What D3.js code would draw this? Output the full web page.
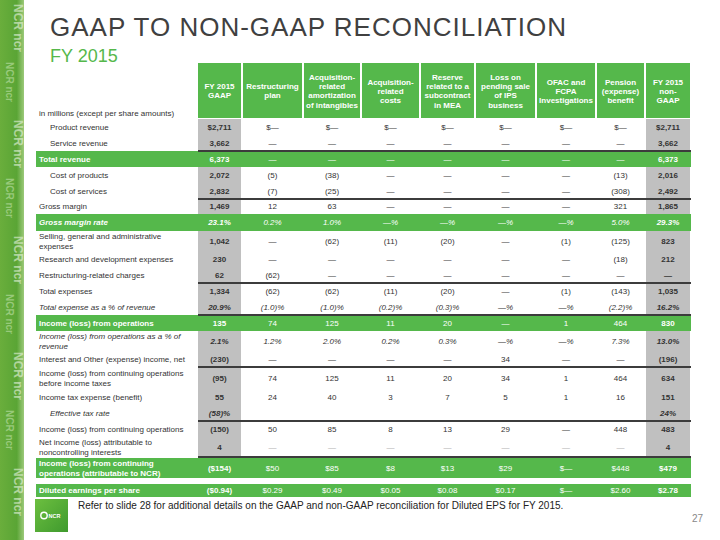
<!DOCTYPE html>
<html><head><meta charset="utf-8">
<script src="https://cdn.jsdelivr.net/npm/d3@7"></script>
<style>body{margin:0;background:#fff}svg{display:block;font-family:"Liberation Sans",Arial,sans-serif}</style>
</head><body><svg id="c" width="720" height="540"></svg>
<script>
// ---------------- DATA ----------------
const title = "GAAP TO NON-GAAP RECONCILIATION";
const subtitle = "FY 2015";
const unitNote = "in millions (except per share amounts)";
const footnote = "Refer to slide 28 for additional details on the GAAP and non-GAAP reconciliation for Diluted EPS for FY 2015.";
const pageNumber = "27";

const colHeaders = [
  ["FY 2015","GAAP"],
  ["Restructuring","plan"],
  ["Acquisition-","related","amortization","of intangibles"],
  ["Acquisition-","related","costs"],
  ["Reserve","related to a","subcontract","in MEA"],
  ["Loss on","pending sale","of IPS","business"],
  ["OFAC and","FCPA","Investigations"],
  ["Pension","(expense)","benefit"],
  ["FY 2015","non-","GAAP"]
];

const rowLabels = [
  "Product revenue","Service revenue","Total revenue","Cost of products","Cost of services",
  "Gross margin","Gross margin rate","Selling, general and administrative\nexpenses",
  "Research and development expenses","Restructuring-related charges","Total expenses",
  "Total expense as a % of revenue","Income (loss) from operations",
  "Income (loss) from operations as a % of\nrevenue","Interest and Other (expense) income, net",
  "Income (loss) from continuing operations\nbefore income taxes","Income tax expense (benefit)",
  "Effective tax rate","Income (loss) from continuing operations",
  "Net income (loss) attributable to\nnoncontrolling interests",
  "Income (loss) from continuing\noperations (attributable to NCR)","Diluted earnings per share"
];

const gaap          = ["$2,711","3,662","6,373","2,072","2,832","1,469","23.1%","1,042","230","62","1,334","20.9%","135","2.1%","(230)","(95)","55","(58)%","(150)","4","($154)","($0.94)"];
const restructuring = ["$—","—","—","(5)","(7)","12","0.2%","—","—","(62)","(62)","(1.0)%","74","1.2%","—","74","24","","50","—","$50","$0.29"];
const acqAmort      = ["$—","—","—","(38)","(25)","63","1.0%","(62)","—","—","(62)","(1.0)%","125","2.0%","—","125","40","","85","—","$85","$0.49"];
const acqCosts      = ["$—","—","—","—","—","—","—%","(11)","—","—","(11)","(0.2)%","11","0.2%","—","11","3","","8","—","$8","$0.05"];
const reserveMEA    = ["$—","—","—","—","—","—","—%","(20)","—","—","(20)","(0.3)%","20","0.3%","—","20","7","","13","—","$13","$0.08"];
const lossIPS       = ["$—","—","—","—","—","—","—%","—","—","—","—","—%","—","—%","34","34","5","","29","—","$29","$0.17"];
const ofacFcpa      = ["$—","—","—","—","—","—","—%","(1)","—","—","(1)","—%","1","—%","—","1","1","","—","—","$—","$—"];
const pension       = ["$—","—","—","(13)","(308)","321","5.0%","(125)","(18)","—","(143)","(2.2)%","464","7.3%","—","464","16","","448","—","$448","$2.60"];
const nonGaap       = ["$2,711","3,662","6,373","2,016","2,492","1,865","29.3%","823","212","—","1,035","16.2%","830","13.0%","(196)","634","151","24%","483","4","$479","$2.78"];

const columns = [gaap, restructuring, acqAmort, acqCosts, reserveMEA, lossIPS, ofacFcpa, pension, nonGaap];

// ---------------- LAYOUT / STYLE ----------------
const rowKinds = ["indent","indent","green","indent","indent","plain","greenItalic","plain","plain","plain","plain",
  "italic","green","italic","plain","plain","plain","indentItalic","plain","nci","green","green"];
const rowHeights = [16,16,16,16,16,15,17,20,16,16,16,16,16,20,16,22,16,16,16,20,20,13];
const rowGaps    = [0,0,0,0,0,0,0,0,0,0,0,0,0,0,0,0,0,0,0,0,1,6];
const ruleAbove  = [2,5,10,12,15,18,20];
const colEdges = [197,242,303,361,420,475,536,596,645,691];
const GREEN = "#55b84b", GRAY = "#c0c0c0", TXT = "#333333";

const svg = d3.select("#c");
const tableTop = 119, labelLeft = 36, tableRight = 691;

// row scales
const rowIdx = d3.range(rowLabels.length);
let acc = tableTop; const tops = [];
rowIdx.forEach(i => { acc += rowGaps[i]; tops.push(acc); acc += rowHeights[i]; });
const yTop = d3.scaleOrdinal(rowIdx, tops);
const yH = d3.scaleOrdinal(rowIdx, rowHeights);
const yMid = i => yTop(i) + yH(i) / 2;

// column scales
const colIdx = d3.range(columns.length);
const xLeft = d3.scaleOrdinal(colIdx, colEdges.slice(0, -1));
const xRight = d3.scaleOrdinal(colIdx, colEdges.slice(1));
const xMid = j => (xLeft(j) + xRight(j)) / 2;

// ---------------- DECOR ----------------
const defs = svg.append("defs");
const lg = defs.append("linearGradient").attr("id","strip").attr("x1",0).attr("x2",1);
lg.append("stop").attr("offset",0).attr("stop-color","#6aae3c");
lg.append("stop").attr("offset",0.7).attr("stop-color","#5aa535");
lg.append("stop").attr("offset",1).attr("stop-color","#9cc97a");
svg.append("rect").attr("x",0).attr("y",0).attr("width",24).attr("height",540).attr("fill","url(#strip)");
const stripWords = d3.range(9).map(() => "NCR");
stripWords.forEach((w,i)=>{
  svg.append("text").attr("transform",`translate(${i%2?6:14},${i*58+4}) rotate(90)`)
    .attr("font-size",i%2?10:12).attr("font-weight","bold").attr("fill", i%2?"#bfe0a8":"#e7f3df")
    .attr("opacity",0.6).text(w + " " + w.toLowerCase());
});

// title
svg.append("text").attr("x",50).attr("y",36).attr("font-size",26).attr("letter-spacing",1).attr("fill","#404040").text(title);
svg.append("text").attr("x",50).attr("y",62).attr("font-size",18).attr("fill",GREEN).text(subtitle);
svg.append("text").attr("x",39).attr("y",116).attr("font-size",8).attr("fill",TXT).text(unitNote);

// header boxes
const hdr = svg.append("g");
colIdx.forEach(j => {
  hdr.append("rect").attr("x",xLeft(j)+1).attr("y",63).attr("width",xRight(j)-xLeft(j)-2).attr("height",55).attr("fill",GREEN);
  const lines = colHeaders[j];
  const lh = 9.3, start = 91 - (lines.length-1)*lh/2;
  const t = hdr.append("text").attr("text-anchor","middle").attr("font-size",8).attr("font-weight","bold").attr("fill","#fff");
  lines.forEach((l,k)=> t.append("tspan").attr("x",xMid(j)).attr("y",start + k*lh).attr("dy","0.35em").text(l));
});

// gray columns
const bodyBottom = yTop(19) + yH(19);
[0, columns.length-1].forEach(j=>{
  svg.append("rect").attr("x",xLeft(j)+1).attr("y",tableTop).attr("width",xRight(j)-xLeft(j)-2)
    .attr("height",bodyBottom - tableTop).attr("fill",GRAY);
});

// green rows
rowIdx.filter(i => rowKinds[i].startsWith("green")).forEach(i=>{
  svg.append("rect").attr("x",labelLeft).attr("y",yTop(i)).attr("width",tableRight-labelLeft).attr("height",yH(i)).attr("fill",GREEN);
});

// rules
ruleAbove.forEach(i=>{
  svg.append("line").attr("x1",colEdges[0]+1).attr("x2",tableRight).attr("y1",yTop(i)-rowGaps[i]).attr("y2",yTop(i)-rowGaps[i])
    .attr("stroke","#3c3c3c").attr("stroke-width",2);
});

// labels
rowIdx.forEach(i=>{
  const kind = rowKinds[i];
  const green = kind.startsWith("green");
  const indent = kind.startsWith("indent");
  const italic = kind.toLowerCase().includes("italic");
  const lines = rowLabels[i].split("\n");
  const t = svg.append("text").attr("font-size",8)
    .attr("fill", green ? "#fff" : TXT)
    .attr("font-weight", green ? "bold" : null)
    .attr("font-style", italic ? "italic" : null);
  const lh = 9.5, start = yMid(i) - (lines.length-1)*lh/2;
  lines.forEach((l,k)=> t.append("tspan").attr("x", indent ? 50 : 39).attr("y", start + k*lh).attr("dy","0.35em").text(l));
});

// values
colIdx.forEach(j=>{
  const edge = (j===0 || j===columns.length-1);
  rowIdx.forEach(i=>{
    const v = columns[j][i];
    if (!v) return;
    const kind = rowKinds[i];
    const green = kind.startsWith("green");
    const italic = kind.toLowerCase().includes("italic");
    const faded = kind === "nci" && !edge;
    svg.append("text").attr("x",xMid(j)).attr("y",yMid(i)).attr("dy","0.35em")
      .attr("text-anchor","middle").attr("font-size",8)
      .attr("font-weight", edge ? "bold" : null)
      .attr("font-style", italic ? "italic" : null)
      .attr("fill", green ? "#fff" : (faded ? "#b0b0b0" : TXT))
      .text(v);
  });
});

// footer
const logo = defs.append("linearGradient").attr("id","logo").attr("x1",0).attr("y1",0).attr("x2",1).attr("y2",1);
logo.append("stop").attr("offset",0).attr("stop-color","#6cbf3f");
logo.append("stop").attr("offset",1).attr("stop-color","#3f9a2e");
svg.append("rect").attr("x",35).attr("y",499).attr("width",33).attr("height",33).attr("fill","url(#logo)");
svg.append("circle").attr("cx",44).attr("cy",515.5).attr("r",3.2).attr("fill","none").attr("stroke","#fff").attr("stroke-width",1.4);
svg.append("text").attr("x",48.5).attr("y",517.5).attr("font-size",5.5).attr("font-weight","bold").attr("fill","#fff").text("NCR");
svg.append("text").attr("x",78).attr("y",509).attr("font-size",10).attr("fill","#222").text(footnote);
svg.append("text").attr("x",703).attr("y",522).attr("text-anchor","end").attr("font-size",10).attr("fill","#888").text(pageNumber);
</script></body></html>
